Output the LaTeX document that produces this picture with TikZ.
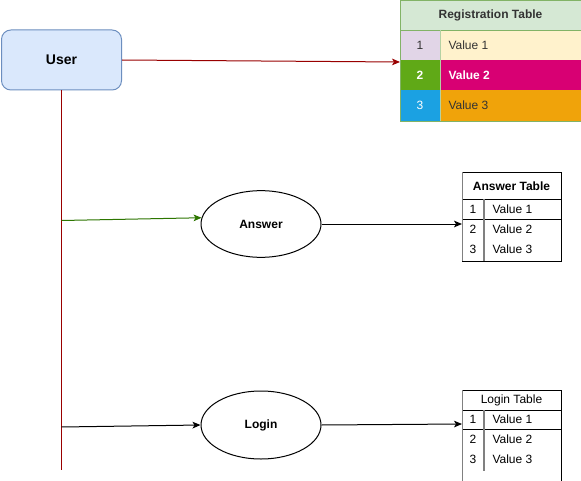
\documentclass[tikz,border=0pt]{standalone}
\usepackage{fontspec}
\setmainfont{Liberation Sans}
\usetikzlibrary{shapes.geometric,arrows.meta}
\definecolor{userfill}{HTML}{DAE8FC}
\definecolor{userdraw}{HTML}{6C8EBF}
\definecolor{regfill}{HTML}{D5E8D4}
\definecolor{regdraw}{HTML}{82B366}
\definecolor{purp}{HTML}{E1D5E7}
\definecolor{cream}{HTML}{FFF2CC}
\definecolor{vgreen}{HTML}{60A917}
\definecolor{magentacell}{HTML}{D80073}
\definecolor{cyancell}{HTML}{1BA1E2}
\definecolor{orangecell}{HTML}{F0A30A}
\definecolor{darkred}{HTML}{990000}
\definecolor{arrgreen}{HTML}{2D7600}
\definecolor{txt}{HTML}{333333}
\definecolor{sepgray}{HTML}{808080}
\begin{document}
\begin{tikzpicture}[x=0.75pt,y=-0.75pt,line width=0.75pt,
  every node/.style={font=\fontsize{9}{11}\selectfont},
  arr/.style={-{Stealth[length=6pt,width=5pt,inset=1.5pt]}},
  userbox/.style={draw=userdraw,fill=userfill,rounded corners=7pt,minimum width=90pt,minimum height=45pt,font=\fontsize{10.5}{12}\selectfont\bfseries},
  oval/.style={draw=black,ellipse,minimum width=90pt,minimum height=50pt,inner sep=0pt,font=\fontsize{9}{11}\selectfont\bfseries},
  tabframe/.style={draw=black,inner sep=0pt,anchor=north west},
  num/.style={inner sep=0pt,anchor=center},
  val/.style={inner sep=0pt,anchor=west},
  hdr/.style={inner sep=0pt,anchor=center}
]
\useasboundingbox (0,0) rectangle (581,481);
\fill[white] (0,0) rectangle (581,481);

% ---------- Registration table ----------
\fill[regfill] (400,0) rectangle (581,30);
\fill[purp] (400,30) rectangle (440,60);
\fill[cream] (440,30) rectangle (581,60);
\fill[vgreen] (400,60) rectangle (440,90);
\fill[magentacell] (440,60) rectangle (581,90);
\fill[cyancell] (400,90) rectangle (440,121);
\fill[orangecell] (440,90) rectangle (581,121);
\node[draw=regdraw,inner sep=0pt,anchor=north west,minimum width=135.75pt,minimum height=90.75pt] (regtab) at (400,0) {};
\draw[regdraw,line width=0.5pt] (400,30) -- (581,30);
\draw[regdraw!60,line width=0.4pt] (440,30) -- (440,121);
\node[hdr,font=\fontsize{9}{11}\selectfont\bfseries,text=txt] (reghdr) at (490.5,15) {Registration Table};
\node[num,text=txt] (regn1) at (420,45) {1};
\node[val,text=txt] (regv1) at (448,45) {Value 1};
\node[num,text=white,font=\fontsize{9}{11}\selectfont\bfseries] (regn2) at (420,75) {2};
\node[val,text=white,font=\fontsize{9}{11}\selectfont\bfseries] (regv2) at (448,75) {Value 2};
\node[num,text=white] (regn3) at (420,105.5) {3};
\node[val,text=txt] (regv3) at (448,105.5) {Value 3};

% ---------- User ----------
\node[userbox] (user) at (61.5,60) {User};

% ---------- Ellipses ----------
\node[oval] (answer) at (261,224) {Answer};
\node[oval,minimum height=51pt] (loginoval) at (261,425) {Login};

% ---------- Answer table ----------
\node[tabframe,minimum width=74.25pt,minimum height=66.75pt] (anstab) at (462,172) {};
\draw (462,199) -- (561,199);
\draw (462,219) -- (561,219);
\draw[sepgray,line width=1.2pt] (484,199) -- (484,261);
\draw[sepgray,line width=1.2pt] (462.5,172) -- (462.5,261);
\node[hdr,font=\fontsize{9}{11}\selectfont\bfseries] (anshdr) at (511.5,186) {Answer Table};
\node[num] (ansn1) at (473,209) {1};
\node[val] (ansv1) at (492,209) {Value 1};
\node[num] (ansn2) at (473,229) {2};
\node[val] (ansv2) at (492,229) {Value 2};
\node[num] (ansn3) at (473,249) {3};
\node[val] (ansv3) at (492,249) {Value 3};

% ---------- Login table ----------
\node[tabframe,minimum width=74.25pt,minimum height=68.25pt] (logtab) at (462,390) {};
\draw (462,410) -- (561,410);
\draw (462,429) -- (561,429);
\draw[sepgray,line width=1.2pt] (484,410) -- (484,471);
\draw[sepgray,line width=1.2pt] (462.5,390) -- (462.5,481);
\node[hdr] (loghdr) at (511.5,400) {Login Table};
\node[num] (logn1) at (473,419) {1};
\node[val] (logv1) at (492,419) {Value 1};
\node[num] (logn2) at (473,439) {2};
\node[val] (logv2) at (492,439) {Value 2};
\node[num] (logn3) at (473,459) {3};
\node[val] (logv3) at (492,459) {Value 3};

% ---------- Connectors ----------
\coordinate (trunkend) at (61.5,470);
\coordinate (tans) at (61.5,220.5);
\coordinate (tlog) at (61.5,427);
\coordinate (regin) at (400,62);
\coordinate (ansin) at (462,224);
\coordinate (login) at (462,424);

\draw[darkred,line width=0.9pt] (user.south) -- (trunkend);
\draw[darkred,arr] (user.east) -- (regin);
\draw[arrgreen,arr] (tans) -- (answer.174);
\draw[arr] (answer.east) -- (ansin);
\draw[arr] (tlog) -- (loginoval.west);
\draw[arr] (loginoval.east) -- (login);
\end{tikzpicture}
\end{document}
